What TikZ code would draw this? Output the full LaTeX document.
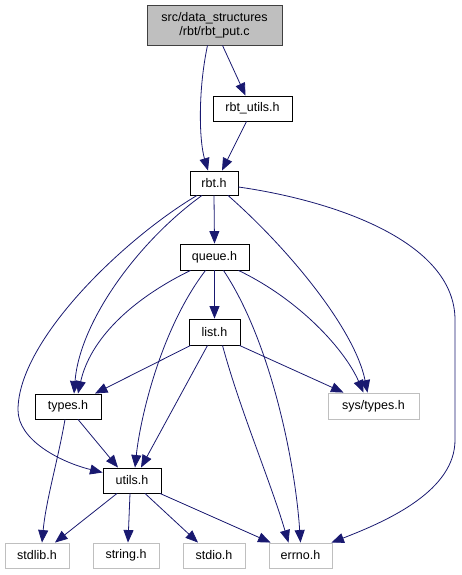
\documentclass[tikz,border=0pt]{standalone}
\usepackage{fontspec}
\setmainfont{Liberation Sans}
\usetikzlibrary{arrows.meta}
\definecolor{edgeblue}{HTML}{191970}
\definecolor{graybox}{HTML}{BFBFBF}
\begin{document}
\begin{tikzpicture}[x=1pt,y=-1pt,
  every node/.style={font=\fontsize{12.5}{14}\selectfont, inner sep=0pt, minimum height=25pt, line width=0.9pt},
  hbox/.style={draw=black, fill=white},
  sysbox/.style={draw=graybox, fill=white},
  rootbox/.style={draw=black!75, fill=graybox, align=center},
  dep/.style={draw=edgeblue, line width=0.8pt, -{Triangle[length=12.5pt,width=10pt,fill=edgeblue]}}
]
\useasboundingbox (0,0) rectangle (461,575);
\node[rootbox, minimum width=135pt, minimum height=40pt] (root) at (214.5,25) {src/data\_structures\\/rbt/rbt\_put.c};
\node[hbox, minimum width=79pt] (rbtutils) at (252.5,108.5) {rbt\_utils.h};
\node[hbox, minimum width=48pt, minimum height=24pt] (rbt) at (214,183) {rbt.h};
\node[hbox, minimum width=69pt, minimum height=26pt] (queue) at (214.5,257) {queue.h};
\node[hbox, minimum width=51pt, minimum height=26pt] (list) at (214.5,332) {list.h};
\node[sysbox, minimum width=91pt, minimum height=26pt] (systypes) at (373.5,406) {sys/types.h};
\node[hbox, minimum width=66pt] (types) at (68,406.5) {types.h};
\node[hbox, minimum width=58pt] (utils) at (132,480.5) {utils.h};
\node[sysbox, minimum width=64pt] (stdlib) at (37,555.5) {stdlib.h};
\node[sysbox, minimum width=66pt] (string) at (126,555.5) {string.h};
\node[sysbox, minimum width=62pt] (stdio) at (214,555.5) {stdio.h};
\node[sysbox, minimum width=63pt] (errno) at (300.5,555.5) {errno.h};

% root
\draw[dep] ([xshift=-7pt]root.south) .. controls (198,90) and (199,140) .. ([xshift=-6pt]rbt.north);
\draw[dep] ([xshift=8pt]root.south) -- ([xshift=-7pt]rbtutils.north);
\draw[dep] ([xshift=-6pt]rbtutils.south) -- ([xshift=8pt]rbt.north);
% rbt.h
\draw[dep] (rbt.south) -- (queue.north);
\draw[dep] ([xshift=-12pt]rbt.south) .. controls (140,240) and (80,320) .. ([xshift=6pt]types.north);
\draw[dep] ([xshift=-17pt]rbt.south) .. controls (125,238) and (18,340) .. (18,410) .. controls (18,440) and (60,462) .. ([yshift=8pt]utils.west);
\draw[dep] ([xshift=14pt]rbt.south) .. controls (290,250) and (355,330) .. ([xshift=-6pt]systypes.north);
\draw[dep] ([yshift=-4pt]rbt.east) .. controls (330,200) and (455,240) .. (455,320) -- (455,440) .. controls (455,490) and (390,520) .. ([xshift=-1pt]errno.north east);
% queue.h
\draw[dep] (queue.south) -- (list.north);
\draw[dep] ([xshift=-24pt]queue.south) .. controls (130,300) and (90,340) .. ([xshift=10pt]types.north);
\draw[dep] ([xshift=-9pt]queue.south) .. controls (160,330) and (140,420) .. ([xshift=3pt]utils.north);
\draw[dep] ([xshift=9pt]queue.south) .. controls (270,340) and (295,460) .. (errno.north);
\draw[dep] ([xshift=24pt]queue.south) .. controls (300,300) and (345,350) .. ([xshift=-10pt]systypes.north);
% list.h
\draw[dep] ([xshift=-24pt]list.south) -- ([xshift=27pt]types.north);
\draw[dep] ([xshift=25pt]list.south) -- ([xshift=-30pt]systypes.north);
\draw[dep] ([xshift=-7pt]list.south) -- ([xshift=9pt]utils.north);
\draw[dep] ([xshift=8pt]list.south) .. controls (240,410) and (270,480) .. ([xshift=-12pt]errno.north);
% types.h
\draw[dep] ([xshift=-3pt]types.south) .. controls (58,460) and (46,500) .. ([xshift=5pt]stdlib.north);
\draw[dep] ([xshift=10pt]types.south) -- ([xshift=-14pt]utils.north);
% utils.h
\draw[dep] ([xshift=-15pt]utils.south) -- ([xshift=18pt]stdlib.north);
\draw[dep] ([xshift=-2pt]utils.south) -- ([xshift=2pt]string.north);
\draw[dep] ([xshift=13pt]utils.south) -- ([xshift=-16pt]stdio.north);
\draw[dep] ([xshift=28pt]utils.south) -- ([xshift=2pt]errno.north west);
\end{tikzpicture}
\end{document}
